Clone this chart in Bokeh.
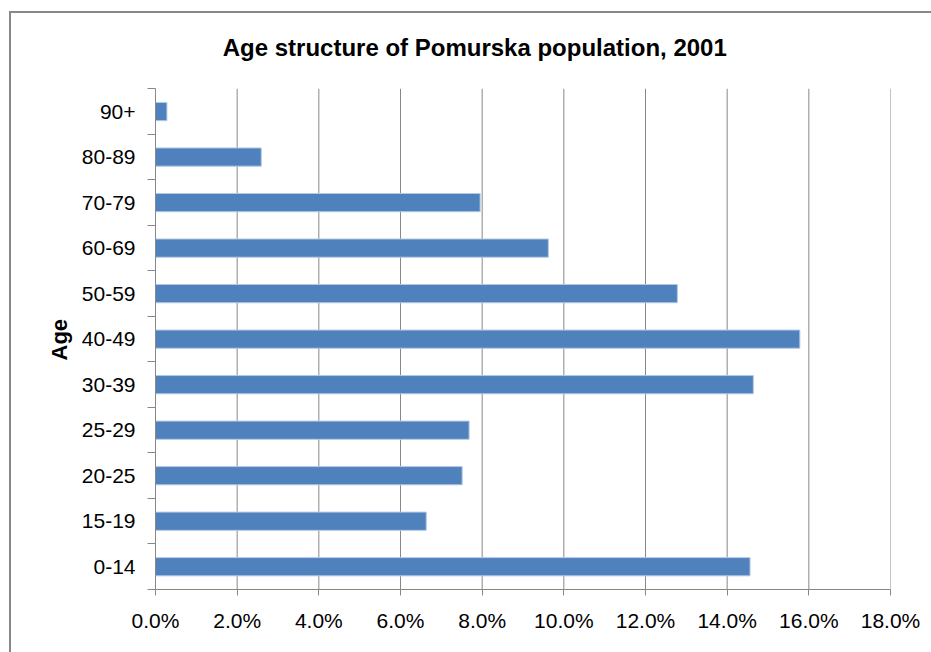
from bokeh.plotting import figure
from bokeh.models import Range1d, FixedTicker, PrintfTickFormatter, Label, Title
from bokeh.embed import file_html
from bokeh.resources import INLINE

# Data
title_text = "Age structure  of Pomurska population, 2001"
y_title = "Age"
categories = ["0-14", "15-19", "20-25", "25-29", "30-39", "40-49",
              "50-59", "60-69", "70-79", "80-89", "90+"]
values = [14.56, 6.63, 7.51, 7.68, 14.64, 15.78, 12.78, 9.62, 7.95, 2.59, 0.28]  # percent
x_ticks = [0, 2, 4, 6, 8, 10, 12, 14, 16, 18]

n = len(categories)
positions = [i + 0.5 for i in range(n)]
boundaries = list(range(n + 1))

FONT = "Liberation Sans"
Y_TOP = 12.654          # extra room above the categories holds the title

p = figure(width=922, height=641, output_backend="svg", toolbar_location=None,
           x_range=Range1d(0, 18), y_range=Range1d(0, Y_TOP),
           min_border_left=144, min_border_right=43, min_border_bottom=65,
           min_border_top=0)
p.outline_line_color = None
p.background_fill_color = "white"
p.border_fill_color = "white"

# Vertical gridlines, limited to the category area
p.segment(x0=x_ticks, y0=[0] * len(x_ticks), x1=x_ticks, y1=[n] * len(x_ticks),
          line_color="#888888", line_width=1)

p.hbar(y=positions, right=values, left=0, height=0.4,
       fill_color="#4F81BD", line_color="#B4C8E2", line_width=1)

# Title
p.add_layout(Label(x=7.9, y=11.905, text=title_text,
                   text_align="center", text_baseline="middle",
                   text_font=FONT, text_font_size="24px", text_font_style="bold",
                   text_color="black"))

# X axis
xa = p.xaxis[0]
xa.ticker = FixedTicker(ticks=x_ticks)
xa.formatter = PrintfTickFormatter(format="%.1f%%")
xa.axis_line_color = "#888888"
xa.major_tick_line_color = "#888888"
xa.major_tick_out = 6
xa.major_tick_in = 0
xa.minor_tick_line_color = None
xa.major_label_standoff = 13
xa.major_label_text_font = FONT
xa.major_label_text_font_size = "21px"
xa.major_label_text_color = "black"

# Y axis
ya = p.yaxis[0]
ya.bounds = (0, n)
ya.ticker = FixedTicker(ticks=positions, minor_ticks=boundaries)
ya.major_label_overrides = {pos: cat for pos, cat in zip(positions, categories)}
ya.axis_line_color = "#888888"
ya.major_tick_line_color = None
ya.major_tick_out = 0
ya.major_tick_in = 0
ya.minor_tick_line_color = "#888888"
ya.minor_tick_out = 8
ya.minor_tick_in = 0
ya.major_label_standoff = 12
ya.major_label_text_font = FONT
ya.major_label_text_font_size = "21px"
ya.major_label_text_color = "black"

# Y axis title, centred on the category area (not on the whole frame)
p.add_layout(Title(text=y_title, align="left", offset=229, standoff=14,
                   text_font=FONT, text_font_size="22px", text_font_style="bold",
                   text_color="black"), "left")

p.xgrid.grid_line_color = None
p.ygrid.grid_line_color = None

# Outer chart border (left and top edges visible in the reference)
p.styles = {"border-left": "2px solid #888888", "border-top": "2px solid #888888",
            "box-sizing": "border-box", "margin-left": "9px", "margin-top": "11px"}

open("out.html", "w").write(file_html(p, INLINE))
